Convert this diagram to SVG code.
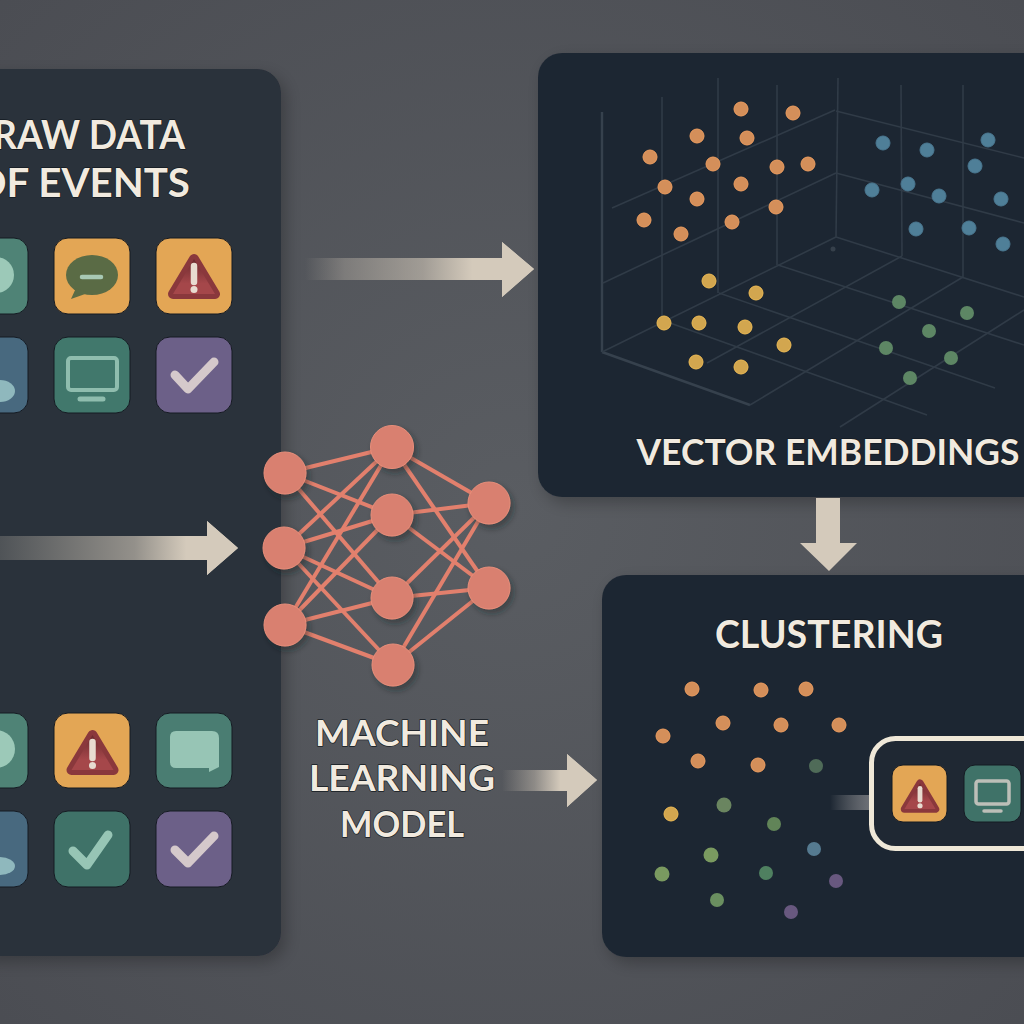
<svg xmlns="http://www.w3.org/2000/svg" width="1024" height="1024" viewBox="0 0 1024 1024">
<style>
text{font-family:"Lato","Noto Sans","Liberation Sans",sans-serif;font-weight:700;fill:#f1eadf;stroke:#141a22;stroke-width:1.4;paint-order:stroke;stroke-linejoin:round}
.panelL{fill:#2a303a;filter:url(#ps)}
.panelD{fill:#1f2833;filter:url(#ps)}
.grid line{stroke:#303b47;stroke-width:1.6}
.grid .b{stroke:#36414d;stroke-width:2.4}
.tile{stroke:#151a22;stroke-width:1}
.or{fill:#d48f5a;stroke:#ee9e60;stroke-width:1}
.bl{fill:#4f7f98;stroke:#4a7790;stroke-width:1}
.ye{fill:#d2a64f;stroke:#efbc55;stroke-width:1}
.gr{fill:#5d8664}
.pu{fill:#68587f}
.edge line{stroke:#e2806d;stroke-width:4}
.nn{fill:#d98070;stroke:#e88e7a;stroke-width:1;filter:url(#ns)}
.ck{fill:none;stroke-width:9;stroke-linecap:round;stroke-linejoin:round}
</style>
<defs>
<radialGradient id="bg" cx="50%" cy="50%" r="75%"><stop offset="0" stop-color="#5a5d62"/><stop offset="1" stop-color="#4a4c52"/></radialGradient>
<linearGradient id="tri" x1="0" y1="0" x2="0" y2="1"><stop offset="0" stop-color="#6b2a2e"/><stop offset=".7" stop-color="#a5474a"/></linearGradient>
<linearGradient id="a1" gradientUnits="userSpaceOnUse" x1="305" x2="502" y1="0" y2="0"><stop offset="0" stop-color="#d4cabb" stop-opacity="0"/><stop offset=".2" stop-color="#d4cabb" stop-opacity=".32"/><stop offset=".6" stop-color="#d4cabb" stop-opacity=".6"/><stop offset=".85" stop-color="#d4cabb"/></linearGradient>
<linearGradient id="a2" gradientUnits="userSpaceOnUse" x1="0" x2="207" y1="0" y2="0"><stop offset="0" stop-color="#d4cabb" stop-opacity=".22"/><stop offset=".65" stop-color="#d4cabb" stop-opacity=".62"/><stop offset=".9" stop-color="#d4cabb"/></linearGradient>
<linearGradient id="a3" gradientUnits="userSpaceOnUse" x1="502" x2="567" y1="0" y2="0"><stop offset="0" stop-color="#d4cabb" stop-opacity="0"/><stop offset=".5" stop-color="#d4cabb" stop-opacity=".45"/><stop offset=".9" stop-color="#d4cabb"/></linearGradient>
<linearGradient id="a4" x1="0" x2="1" y1="0" y2="0"><stop offset="0" stop-color="#8a8b8e" stop-opacity="0"/><stop offset="1" stop-color="#6c6f75"/></linearGradient>
<filter id="ps" x="-10%" y="-10%" width="125%" height="125%"><feDropShadow dx="5" dy="6" stdDeviation="8" flood-color="#000" flood-opacity=".25"/></filter>
<filter id="ns" x="-30%" y="-30%" width="170%" height="170%"><feDropShadow dx="3" dy="4" stdDeviation="3" flood-color="#1a2028" flood-opacity=".45"/></filter>
<g id="warn"><path d="M0 -16 L21 19 L-21 19 Z" fill="url(#tri)" stroke="#8a383c" stroke-width="10" stroke-linejoin="round"/><path d="M0 -16 L21 19 L-21 19 Z" fill="url(#tri)"/><path d="M0 -9 V7" stroke="#e8dcd0" stroke-width="6.5" stroke-linecap="round"/><circle cy="14.500" r="3.500" fill="#e8dcd0"/></g>
</defs>
<rect id="background" width="1024" height="1024" fill="url(#bg)"/>

<g id="raw-data">
<rect class="panelL" x="-30" y="69" width="311" height="887" rx="24"/>
<text id="t1" x="185" y="149" text-anchor="end" font-size="41" textLength="192" lengthAdjust="spacingAndGlyphs">RAW DATA</text>
<text id="t2" x="190" y="197" text-anchor="end" font-size="41" textLength="216" lengthAdjust="spacingAndGlyphs">OF EVENTS</text>
<g id="icon-r1c1"><rect class="tile" x="-40" y="238" width="68" height="76" rx="14" fill="#4f8376"/><circle cx="-4" cy="275" r="18" fill="#9cc9b8"/></g>
<g id="icon-r1c2"><rect class="tile" x="54" y="238" width="76" height="76" rx="14" fill="#e3a655"/><ellipse cx="92" cy="275" rx="26" ry="20" fill="#5a6b45"/><path d="M76 288 L71 299 L88 293 Z" fill="#5a6b45"/><path d="M82 277 H101" stroke="#a8c8b4" stroke-width="4.500" stroke-linecap="round"/></g>
<g id="icon-r1c3"><rect class="tile" x="156" y="238" width="76" height="76" rx="14" fill="#e3a655"/><use href="#warn" transform="translate(194,275)"/></g>
<g id="icon-r2c1"><rect class="tile" x="-40" y="337" width="68" height="76" rx="14" fill="#48697f"/><ellipse cx="0" cy="391" rx="15" ry="11" fill="#8fb8bd"/></g>
<g id="icon-r2c2"><rect class="tile" x="54" y="337" width="76" height="76" rx="14" fill="#41786c"/><rect x="68" y="358" width="49" height="32" rx="3" fill="none" stroke="#8fbdae" stroke-width="4"/><path d="M80 399 H103" stroke="#8fbdae" stroke-width="5" stroke-linecap="round"/></g>
<g id="icon-r2c3"><rect class="tile" x="156" y="337" width="76" height="76" rx="14" fill="#6c6088"/><path class="ck" d="M175 375 L188 389 L214 362" stroke="#d5c9cb"/></g>
<g id="icon-r3c1"><rect class="tile" x="-40" y="713" width="68" height="75" rx="14" fill="#4f8376"/><circle cx="-4" cy="749" r="19" fill="#9cc9b8"/></g>
<g id="icon-r3c2"><rect class="tile" x="54" y="713" width="76" height="75" rx="14" fill="#e3a655"/><use href="#warn" transform="translate(92.500,751)"/></g>
<g id="icon-r3c3"><rect class="tile" x="156" y="713" width="76" height="75" rx="14" fill="#4a7d72"/><path d="M176 731 H212 Q219 731 219 738 V767 L209 772 V768 H176 Q170 768 170 762 V737 Q170 731 176 731 Z" fill="#97c5b5"/></g>
<g id="icon-r4c1"><rect class="tile" x="-40" y="811" width="68" height="76" rx="14" fill="#48697f"/><ellipse cx="0" cy="866" rx="15" ry="9" fill="#8fb8bd"/></g>
<g id="icon-r4c2"><rect class="tile" x="54" y="811" width="76" height="76" rx="14" fill="#3f7268"/><path class="ck" d="M73 851 L87 865 L108 835" stroke="#97c5b5" stroke-width="10"/></g>
<g id="icon-r4c3"><rect class="tile" x="156" y="811" width="76" height="76" rx="14" fill="#6c6088"/><path class="ck" d="M175 850 L188 863 L214 836" stroke="#d5c9cb"/></g>
</g>

<g id="vector-embeddings">
<rect class="panelD" x="538" y="53" width="520" height="444" rx="24"/>
<g class="grid">
<line class="b" x1="602" y1="112" x2="602" y2="352"/><line x1="662" y1="97" x2="662" y2="317"/><line x1="718" y1="78" x2="718" y2="293"/><line x1="777" y1="85" x2="777" y2="265"/><line x1="838" y1="78" x2="836" y2="237"/><line x1="901" y1="85" x2="902" y2="256"/><line x1="963" y1="85" x2="963" y2="277"/>
<line class="b" x1="602" y1="352" x2="750" y2="405"/><line x1="750" y1="405" x2="963" y2="277"/><line x1="602" y1="352" x2="836" y2="237"/><line x1="836" y1="237" x2="1024" y2="297"/><line x1="778" y1="265" x2="1024" y2="345"/><line x1="719" y1="293" x2="995" y2="388"/><line x1="670" y1="323" x2="927" y2="415"/><line x1="902" y1="256" x2="707" y2="363"/><line x1="1024" y1="310" x2="840" y2="427"/><line x1="603" y1="283" x2="836" y2="173"/><line x1="612" y1="208" x2="835" y2="110"/><line x1="836" y1="173" x2="1024" y2="223"/><line x1="836" y1="111" x2="1024" y2="158"/>
</g>
<circle cx="833" cy="249" r="2.500" fill="#36404b"/>
<g class="or"><circle cx="741" cy="109" r="7"/><circle cx="793" cy="113" r="7"/><circle cx="697" cy="136" r="7"/><circle cx="747" cy="138" r="7"/><circle cx="650" cy="157" r="7"/><circle cx="713" cy="164" r="7"/><circle cx="777" cy="167" r="7"/><circle cx="808" cy="164" r="7"/><circle cx="665" cy="187" r="7"/><circle cx="741" cy="184" r="7"/><circle cx="697" cy="199" r="7"/><circle cx="776" cy="207" r="7"/><circle cx="644" cy="220" r="7"/><circle cx="681" cy="234" r="7"/><circle cx="732" cy="222" r="7"/></g>
<g class="bl"><circle cx="883" cy="143" r="7"/><circle cx="927" cy="150" r="7"/><circle cx="988" cy="140" r="7"/><circle cx="975" cy="166" r="7"/><circle cx="872" cy="190" r="7"/><circle cx="908" cy="184" r="7"/><circle cx="939" cy="196" r="7"/><circle cx="1001" cy="199" r="7"/><circle cx="916" cy="229" r="7"/><circle cx="969" cy="228" r="7"/><circle cx="1003" cy="244" r="7"/></g>
<g class="ye"><circle cx="709" cy="281" r="7"/><circle cx="756" cy="293" r="7"/><circle cx="664" cy="323" r="7"/><circle cx="699" cy="323" r="7"/><circle cx="745" cy="327" r="7"/><circle cx="784" cy="345" r="7"/><circle cx="696" cy="362" r="7"/><circle cx="741" cy="367" r="7"/></g>
<g class="gr"><circle cx="899" cy="302" r="7"/><circle cx="967" cy="313" r="7"/><circle cx="929" cy="331" r="7"/><circle cx="886" cy="348" r="7"/><circle cx="951" cy="358" r="7"/><circle cx="910" cy="378" r="7"/></g>
<text x="828" y="465" text-anchor="middle" font-size="37" textLength="383" lengthAdjust="spacingAndGlyphs">VECTOR EMBEDDINGS</text>
</g>

<g id="clustering">
<rect class="panelD" x="602" y="575" width="456" height="382" rx="24"/>
<text x="829" y="648" text-anchor="middle" font-size="38" textLength="228" lengthAdjust="spacingAndGlyphs">CLUSTERING</text>
<g class="or"><circle cx="692" cy="689" r="7"/><circle cx="761" cy="690" r="7"/><circle cx="806" cy="689" r="7"/><circle cx="723" cy="723" r="7"/><circle cx="781" cy="725" r="7"/><circle cx="839" cy="725" r="7"/><circle cx="663" cy="736" r="7"/><circle cx="698" cy="761" r="7"/><circle cx="758" cy="765" r="7"/></g>
<circle cx="816" cy="766" r="7" fill="#4f6b58"/>
<circle class="ye" cx="671" cy="814" r="7"/>
<circle cx="724" cy="805" r="7.500" fill="#6a8560"/><circle cx="774" cy="824" r="7" fill="#618458"/><circle cx="814" cy="849" r="7" fill="#557a90"/><circle cx="711" cy="855" r="7.500" fill="#7a9a60"/><circle cx="662" cy="874" r="7.500" fill="#7a9a60"/><circle cx="766" cy="873" r="7" fill="#4f8060"/><circle cx="717" cy="900" r="7" fill="#6a8f60"/>
<g class="pu"><circle cx="836" cy="881" r="7"/><circle cx="791" cy="912" r="7"/></g>
<rect x="830" y="795" width="39" height="15" fill="url(#a4)"/>
<g id="selected-cluster">
<rect x="871.500" y="738.500" width="200" height="110" rx="24" fill="#1f2833" stroke="#efe8d8" stroke-width="5"/>
<g id="icon-selected-warn"><rect class="tile" x="892" y="765" width="55" height="57" rx="11" fill="#e3a655"/><g transform="translate(920,795) scale(.74)"><use href="#warn"/></g></g>
<g id="icon-selected-monitor"><rect class="tile" x="964" y="765" width="57" height="57" rx="11" fill="#3f7268"/><rect x="976" y="781" width="33" height="23" rx="2.500" fill="none" stroke="#bdbfb8" stroke-width="3.500"/><path d="M984 811 H1001" stroke="#bdbfb8" stroke-width="3.500" stroke-linecap="round"/></g>
</g>
</g>

<g id="machine-learning-model">
<g class="edge">
<line x1="285" y1="473" x2="392" y2="447"/><line x1="285" y1="473" x2="392" y2="515"/><line x1="285" y1="473" x2="392" y2="598"/>
<line x1="284" y1="548" x2="392" y2="447"/><line x1="284" y1="548" x2="392" y2="515"/><line x1="284" y1="548" x2="392" y2="598"/><line x1="284" y1="548" x2="393" y2="665"/>
<line x1="285" y1="625" x2="392" y2="447"/><line x1="285" y1="625" x2="392" y2="515"/><line x1="285" y1="625" x2="392" y2="598"/><line x1="285" y1="625" x2="393" y2="665"/>
<line x1="392" y1="447" x2="489" y2="503"/><line x1="392" y1="447" x2="489" y2="588"/><line x1="392" y1="515" x2="489" y2="503"/><line x1="392" y1="515" x2="489" y2="588"/><line x1="392" y1="598" x2="489" y2="503"/><line x1="392" y1="598" x2="489" y2="588"/><line x1="393" y1="665" x2="489" y2="503"/><line x1="393" y1="665" x2="489" y2="588"/>
</g>
<g id="nodes">
<circle class="nn" cx="285" cy="473" r="21"/><circle class="nn" cx="284" cy="548" r="21"/><circle class="nn" cx="285" cy="625" r="21"/>
<circle class="nn" cx="392" cy="447" r="21.500"/><circle class="nn" cx="392" cy="515" r="21"/><circle class="nn" cx="392" cy="598" r="21"/><circle class="nn" cx="393" cy="665" r="21"/>
<circle class="nn" cx="489" cy="503" r="21"/><circle class="nn" cx="489" cy="588" r="21"/>
</g>
<text x="402" y="746" text-anchor="middle" font-size="36" textLength="174" lengthAdjust="spacingAndGlyphs">MACHINE</text>
<text x="402" y="791" text-anchor="middle" font-size="36" textLength="186" lengthAdjust="spacingAndGlyphs">LEARNING</text>
<text x="402" y="837" text-anchor="middle" font-size="36" textLength="124" lengthAdjust="spacingAndGlyphs">MODEL</text>
</g>

<g id="connectors">
<path d="M305 258 H502 V242 L534 269 L502 297 V280 H305 Z" fill="url(#a1)"/>
<path d="M502 242 L534 269 L502 297 Z" fill="#d4cabb"/>
<path d="M-5 536 H207 V521 L238 548 L207 575 V560 H-5 Z" fill="url(#a2)"/>
<path d="M207 521 L238 548 L207 575 Z" fill="#d4cabb"/>
<path d="M502 770 H567 V754 L597 780 L567 807 V791 H502 Z" fill="url(#a3)"/>
<path d="M567 754 L597 780 L567 807 Z" fill="#d4cabb"/>
<path d="M816 498 H840 V543 H857 L829 571 L800 543 H816 Z" fill="#d4cabb"/>
</g>
</svg>
